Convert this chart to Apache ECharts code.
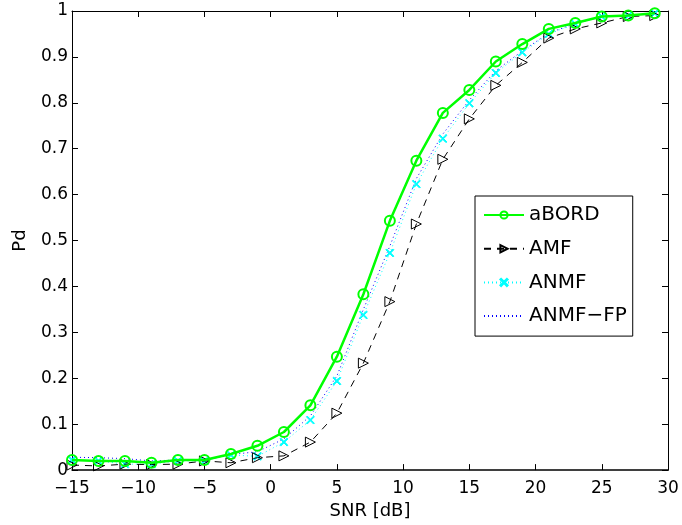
<!DOCTYPE html>
<html><head><meta charset="utf-8">
<script src="https://cdn.jsdelivr.net/npm/echarts@6/dist/echarts.min.js"></script>
<style>html,body{margin:0;padding:0;background:#fff}#c{width:682px;height:525px}</style>
</head><body><div id="c"></div>
<script>
const snr = [-15,-13,-11,-9,-7,-5,-3,-1,1,3,5,7,9,11,13,15,17,19,21,23,25,27,29];
const aBORD = [0.022,0.020,0.020,0.016,0.022,0.022,0.035,0.053,0.083,0.141,0.247,0.383,0.543,0.674,0.778,0.828,0.890,0.928,0.961,0.974,0.988,0.990,0.995];
const AMF = [0.011,0.009,0.013,0.012,0.013,0.020,0.016,0.027,0.031,0.061,0.124,0.233,0.367,0.536,0.677,0.765,0.838,0.888,0.941,0.961,0.974,0.988,0.990];
const ANMF = [0.022,0.020,0.013,0.013,0.020,0.020,0.033,0.030,0.061,0.109,0.194,0.338,0.473,0.623,0.722,0.799,0.865,0.910,0.950,0.972,0.988,0.990,0.995];
const ANMF_FP = [0.028,0.027,0.025,0.020,0.022,0.022,0.034,0.040,0.068,0.118,0.205,0.350,0.488,0.635,0.732,0.806,0.870,0.913,0.952,0.973,0.988,0.990,0.995];
const legendNames = ['aBORD','AMF','ANMF','ANMF\u2212FP'];

const pair = ys => snr.map((x,i)=>[x,ys[i]]);
const FONT = 'DejaVu Sans';
const fmtX = v => (v<0 ? '\u2212'+Math.abs(v) : String(v));
const fmtY = v => String(Math.round(v*10)/10);

const chart = echarts.init(document.getElementById('c'), null, {renderer:'canvas'});
const tickStyle = {show:true, inside:true, length:6, lineStyle:{color:'#000', width:1}};
chart.setOption({
  animation:false,
  backgroundColor:'#fff',
  textStyle:{fontFamily:FONT},
  grid:{left:72, right:14, top:11, bottom:54, containLabel:false, show:false},
  xAxis:[{
    type:'value', min:-15, max:30, interval:5, position:'bottom',
    name:'SNR [dB]', nameLocation:'middle', nameGap:28,
    nameTextStyle:{fontFamily:FONT, fontSize:18, color:'#000'},
    axisLine:{show:true, onZero:false, lineStyle:{color:'#000', width:1.5}},
    axisTick:tickStyle,
    axisLabel:{formatter:fmtX, fontFamily:FONT, fontSize:17, color:'#000', margin:10},
    splitLine:{show:false}
  },{
    type:'value', min:-15, max:30, interval:5, position:'top',
    axisLine:{show:true, onZero:false, lineStyle:{color:'#000', width:1}},
    axisTick:tickStyle, axisLabel:{show:false}, splitLine:{show:false}
  }],
  yAxis:[{
    type:'value', min:0, max:1, interval:0.1, position:'left',
    name:'Pd', nameLocation:'middle', nameGap:43, nameRotate:90,
    nameTextStyle:{fontFamily:FONT, fontSize:18, color:'#000'},
    axisLine:{show:true, onZero:false, lineStyle:{color:'#000', width:1}},
    axisTick:tickStyle,
    axisLabel:{formatter:fmtY, fontFamily:FONT, fontSize:17, color:'#000', margin:4},
    splitLine:{show:false}
  },{
    type:'value', min:0, max:1, interval:0.1, position:'right',
    axisLine:{show:true, onZero:false, lineStyle:{color:'#000', width:1}},
    axisTick:tickStyle, axisLabel:{show:false}, splitLine:{show:false}
  }],
  legend:{
    orient:'vertical', left:475, top:196,
    backgroundColor:'#fff', borderColor:'#000', borderWidth:1,
    padding:[9,6,10,8], itemGap:13.7, itemWidth:40, itemHeight:9,
    textStyle:{fontFamily:FONT, fontSize:20, color:'#000'},
    data:[legendNames[0], legendNames[1], legendNames[2], {name:legendNames[3], itemStyle:{opacity:0}}]
  },
  series:[
    {name:legendNames[3], type:'line', data:pair(ANMF_FP), symbol:'none', z:2,
     lineStyle:{color:'#0000ff', width:1, type:[1,3]}, itemStyle:{color:'#0000ff'}},
    {name:legendNames[2], type:'line', data:pair(ANMF), z:3,
     symbol:'path://M0,1 L1,0 L5,4 L9,0 L10,1 L6,5 L10,9 L9,10 L5,6 L1,10 L0,9 L4,5 Z', symbolSize:8,
     lineStyle:{color:'#00ffff', width:1, type:[1,3]},
     itemStyle:{color:'#00ffff', borderColor:'#00ffff', borderWidth:1}},
    {name:legendNames[1], type:'line', data:pair(AMF), z:4,
     symbol:'path://M0,0 L10,5 L0,10 Z', symbolSize:[10,10],
     lineStyle:{color:'#000', width:1, type:[7,6]},
     itemStyle:{color:'rgba(255,255,255,0)', borderColor:'#000', borderWidth:1}},
    {name:legendNames[0], type:'line', data:pair(aBORD), z:5,
     symbol:'circle', symbolSize:10,
     lineStyle:{color:'#00ff00', width:2.5},
     itemStyle:{color:'rgba(255,255,255,0)', borderColor:'#00ff00', borderWidth:2}}
  ]
});
</script></body></html>
